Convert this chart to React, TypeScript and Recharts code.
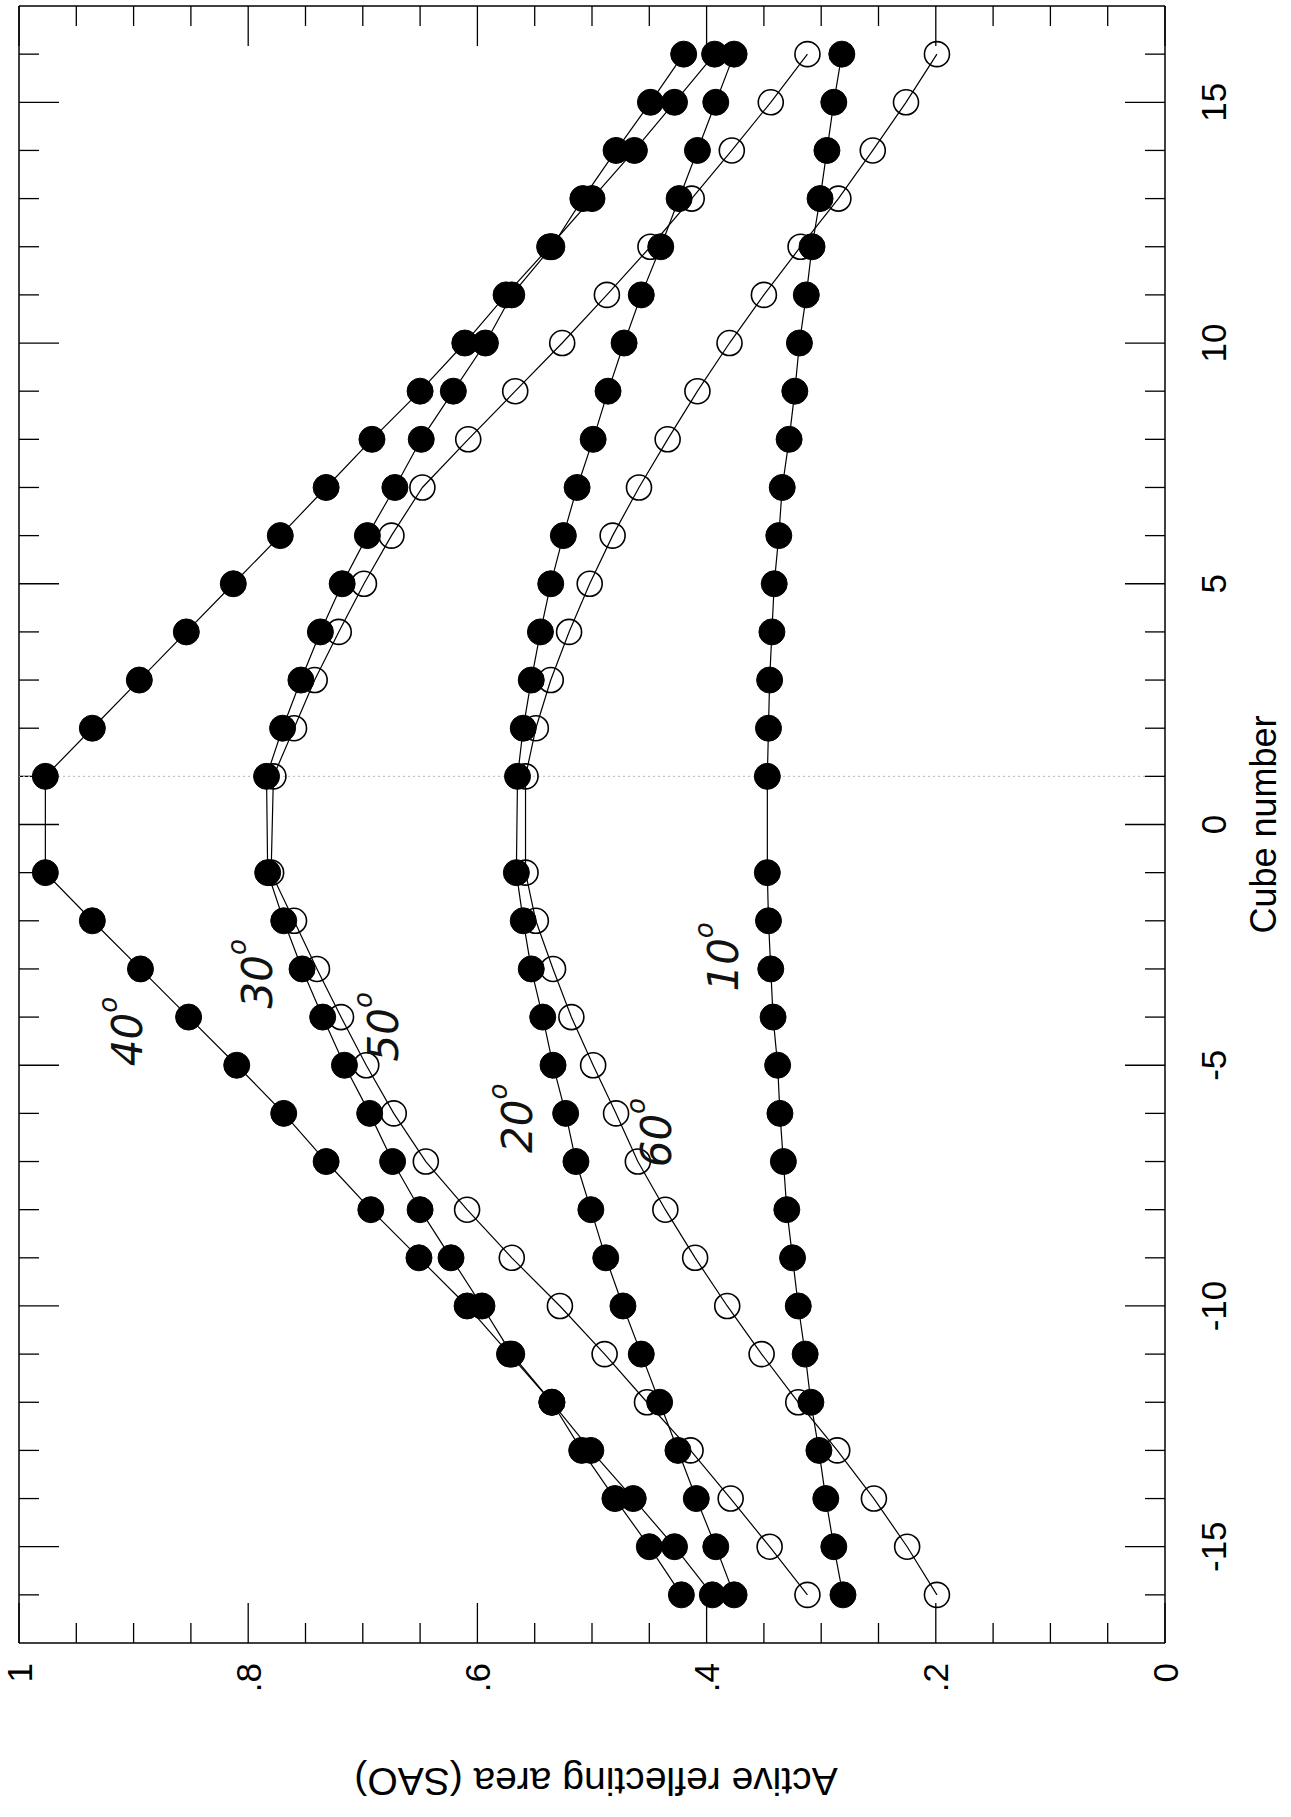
import React from 'react';
import { LineChart, Line, XAxis, YAxis, ReferenceLine, ReferenceDot, Label } from 'recharts';

// cube numbers (no cube 0)
const cubes = [
  -16, -15, -14, -13, -12, -11, -10, -9, -8, -7, -6, -5, -4, -3, -2, -1,
  1, 2, 3, 4, 5, 6, 7, 8, 9, 10, 11, 12, 13, 14, 15, 16,
];

// active reflecting area per angle, same order as cubes
const sao40 = [
  0.395, 0.428, 0.464, 0.501, 0.535, 0.572, 0.609, 0.651, 0.693, 0.732, 0.769, 0.81, 0.852, 0.894, 0.936, 0.977,
  0.977, 0.936, 0.895, 0.854, 0.813, 0.772, 0.732, 0.692, 0.65, 0.611, 0.575, 0.537, 0.5, 0.463, 0.428, 0.393,
];
const sao30 = [
  0.422, 0.45, 0.48, 0.509, 0.535, 0.57, 0.596, 0.623, 0.65, 0.674, 0.694, 0.716, 0.735, 0.753, 0.769, 0.783,
  0.784, 0.77, 0.754, 0.737, 0.718, 0.696, 0.672, 0.649, 0.621, 0.593, 0.57, 0.535, 0.508, 0.479, 0.449, 0.42,
];
const sao50 = [
  0.312, 0.345, 0.379, 0.414, 0.452, 0.489, 0.528, 0.57, 0.609, 0.645, 0.673, 0.697, 0.719, 0.74, 0.76, 0.78,
  0.778, 0.76, 0.742, 0.721, 0.699, 0.675, 0.648, 0.608, 0.567, 0.526, 0.487, 0.449, 0.413, 0.378, 0.344, 0.312,
];
const sao20 = [
  0.376, 0.392, 0.409, 0.425, 0.441, 0.457, 0.473, 0.488, 0.501, 0.514, 0.523, 0.534, 0.543, 0.553, 0.56, 0.566,
  0.565, 0.56, 0.553, 0.545, 0.536, 0.525, 0.513, 0.499, 0.486, 0.472, 0.457, 0.44, 0.424, 0.408, 0.392, 0.376,
];
const sao60 = [
  0.199, 0.225, 0.254, 0.286, 0.32, 0.352, 0.382, 0.41, 0.436, 0.46, 0.479, 0.499, 0.518, 0.534, 0.549, 0.558,
  0.558, 0.549, 0.536, 0.52, 0.502, 0.482, 0.459, 0.434, 0.408, 0.38, 0.35, 0.318, 0.285, 0.255, 0.226, 0.199,
];
const sao10 = [
  0.281, 0.289, 0.296, 0.302, 0.309, 0.314, 0.32, 0.325, 0.33, 0.333, 0.336, 0.338, 0.342, 0.344, 0.346, 0.347,
  0.347, 0.346, 0.345, 0.343, 0.341, 0.337, 0.334, 0.328, 0.323, 0.319, 0.313, 0.308, 0.301, 0.295, 0.289, 0.282,
];

const cubeTicks = [
  -16, -15, -14, -13, -12, -11, -10, -9, -8, -7, -6, -5, -4, -3, -2, -1, 0,
  1, 2, 3, 4, 5, 6, 7, 8, 9, 10, 11, 12, 13, 14, 15, 16,
];
const cubeMajor = [-15, -10, -5, 0, 5, 10, 15];
const cubeLabels = ['-15', '-10', '-5', '0', '5', '10', '15'];

const valueTicks = [
  0, 0.05, 0.1, 0.15, 0.2, 0.25, 0.3, 0.35, 0.4, 0.45, 0.5, 0.55, 0.6, 0.65, 0.7, 0.75, 0.8, 0.85, 0.9, 0.95, 1,
];
const valueMajor = [0, 0.2, 0.4, 0.6, 0.8, 1];
const valueLabels = ['0', '.2', '.4', '.6', '.8', '1'];

// hand-written angle notes
const noteText = ['40', '30', '50', '20', '60', '10'];
const noteCube = [-4.3, -3.1, -4.2, -6.1, -6.4, -2.75];
const noteValue = [0.905, 0.792, 0.682, 0.565, 0.444, 0.385];

const toPoints = (vals: number[]) => cubes.map((c, i) => ({ c, v: vals[i] }));

// open series first so filled dots sit on top
const series = [
  { key: '60', vals: sao60, open: true },
  { key: '50', vals: sao50, open: true },
  { key: '10', vals: sao10, open: false },
  { key: '20', vals: sao20, open: false },
  { key: '30', vals: sao30, open: false },
  { key: '40', vals: sao40, open: false },
];

const W = 1817;
const H = 1291;
const MARGIN = { top: 19, right: 6, bottom: 0, left: 0 };
const X_AXIS_H = 126;
const Y_AXIS_W = 174;
const PLOT_W = W - MARGIN.left - MARGIN.right - Y_AXIS_W;
const PLOT_H = H - MARGIN.top - MARGIN.bottom - X_AXIS_H;
const CUBE_MIN = -17;
const CUBE_MAX = 17;
const MINOR = 20;
const MAJOR = 40;
const FONT = '"Liberation Sans", Arial, Helvetica, sans-serif';

// pixel tick lengths expressed in data units, for the mirrored (top / right) ticks
const pxToValue = (px: number) => px / PLOT_H;
const pxToCube = (px: number) => (px * (CUBE_MAX - CUBE_MIN)) / PLOT_W;

const isMajorVal = (v: number) => valueMajor.some((m) => Math.abs(m - v) < 1e-6);
const valLabel = (v: number) => {
  const i = valueMajor.findIndex((m) => Math.abs(m - v) < 1e-6);
  return i >= 0 ? valueLabels[i] : '';
};

function CubeTickBottom(props: any) {
  const { x, y, payload } = props;
  const i = cubeMajor.indexOf(payload.value);
  const len = i >= 0 ? MAJOR : MINOR;
  return (
    <g>
      <line x1={x} y1={y} x2={x} y2={y - len} stroke="#000" strokeWidth={1.3} />
      {i >= 0 && (
        <text x={x} y={y + 48} textAnchor="middle" dominantBaseline="central" fontSize={35} fontFamily={FONT} fill="#000">
          {cubeLabels[i]}
        </text>
      )}
    </g>
  );
}

function ValueTickLeft(props: any) {
  const { x, y, payload } = props;
  const major = isMajorVal(payload.value);
  return (
    <g>
      <line x1={x} y1={y} x2={x + (major ? MAJOR : MINOR)} y2={y} stroke="#000" strokeWidth={1.3} />
      {major && (
        <text x={x - 20} y={y} textAnchor="end" dominantBaseline="central" fontSize={35} fontFamily={FONT} fill="#000">
          {valLabel(payload.value)}
        </text>
      )}
    </g>
  );
}

function Note(props: any) {
  const { cx, cy, text } = props;
  return (
    <text
      x={cx}
      y={cy}
      textAnchor="middle"
      dominantBaseline="central"
      fontSize={42}
      fontFamily='"DejaVu Sans", sans-serif'
      fontStyle="italic"
      fill="#111"
    >
      {text}
      <tspan fontSize={26} dy={-20}>o</tspan>
    </text>
  );
}

export default function App() {
  return (
    <div style={{ position: 'absolute', left: 0, top: 0, width: H, height: W, overflow: 'hidden', background: '#fff' }}>
      <div
        style={{
          position: 'absolute',
          left: 0,
          top: 0,
          width: W,
          height: H,
          transformOrigin: '0 0',
          transform: `translate(0px, ${W}px) rotate(-90deg)`,
        }}
      >
        <LineChart width={W} height={H} margin={MARGIN} style={{ fontFamily: FONT }}>
          <XAxis
            xAxisId="b"
            type="number"
            dataKey="c"
            domain={[CUBE_MIN, CUBE_MAX]}
            allowDataOverflow
            ticks={cubeTicks}
            interval={0}
            height={X_AXIS_H}
            tickSize={0}
            tickMargin={0}
            tickLine={false}
            axisLine={{ stroke: '#000', strokeWidth: 1.5 }}
            tick={(p: any) => <CubeTickBottom {...p} />}
          >
            <Label
              content={(p: any) => {
                const vb = p.viewBox || { x: Y_AXIS_W, y: MARGIN.top + PLOT_H, width: PLOT_W };
                return (
                  <text x={vb.x + vb.width / 2} y={vb.y + 98} textAnchor="middle" dominantBaseline="central" fontSize={36} fontFamily={FONT} fill="#000">
                    Cube number
                  </text>
                );
              }}
            />
          </XAxis>
          <YAxis
            yAxisId="l"
            type="number"
            domain={[0, 1]}
            allowDataOverflow
            ticks={valueTicks}
            interval={0}
            width={Y_AXIS_W}
            tickSize={0}
            tickMargin={0}
            tickLine={false}
            axisLine={{ stroke: '#000', strokeWidth: 1.5 }}
            tick={(p: any) => <ValueTickLeft {...p} />}
          >
            <Label
              content={(p: any) => {
                const vb = p.viewBox || { x: 0, y: MARGIN.top, height: PLOT_H };
                const cx = vb.x + 36;
                const cy = vb.y + vb.height / 2 + 4;
                return (
                  <text
                    x={cx}
                    y={cy}
                    transform={`rotate(-90 ${cx} ${cy})`}
                    textAnchor="middle"
                    dominantBaseline="central"
                    fontSize={39}
                    fontFamily={FONT}
                    fill="#000"
                  >
                    Active reflecting area (SAO)
                  </text>
                );
              }}
            />
          </YAxis>

          {/* closing frame lines */}
          <ReferenceLine xAxisId="b" yAxisId="l" y={1} stroke="#000" strokeWidth={1.5} />
          <ReferenceLine xAxisId="b" yAxisId="l" x={CUBE_MAX} stroke="#000" strokeWidth={1.5} />

          {/* mirrored inward ticks on the top and right edges */}
          {cubeTicks.map((c) => (
            <ReferenceLine
              key={`tt${c}`}
              xAxisId="b"
              yAxisId="l"
              segment={[
                { x: c, y: 1 },
                { x: c, y: 1 - pxToValue(cubeMajor.includes(c) ? MAJOR : MINOR) },
              ]}
              stroke="#000"
              strokeWidth={1.3}
            />
          ))}
          {valueTicks.map((v) => (
            <ReferenceLine
              key={`rt${v}`}
              xAxisId="b"
              yAxisId="l"
              segment={[
                { x: CUBE_MAX, y: v },
                { x: CUBE_MAX - pxToCube(isMajorVal(v) ? MAJOR : MINOR), y: v },
              ]}
              stroke="#000"
              strokeWidth={1.3}
            />
          ))}

          <ReferenceLine xAxisId="b" yAxisId="l" x={1} stroke="#b8b8b8" strokeDasharray="2 3" strokeWidth={1} />

          {series.map((s) => (
            <Line
              key={s.key}
              xAxisId="b"
              yAxisId="l"
              data={toPoints(s.vals)}
              dataKey="v"
              type="linear"
              stroke="#000"
              strokeWidth={1.2}
              isAnimationActive={false}
              dot={
                s.open
                  ? { r: 12.5, fill: 'none', stroke: '#000', strokeWidth: 1.6 }
                  : { r: 13, fill: '#000', stroke: '#000', strokeWidth: 1 }
              }
              activeDot={false}
            />
          ))}
          {noteText.map((t, i) => (
            <ReferenceDot
              key={t}
              xAxisId="b"
              yAxisId="l"
              x={noteCube[i]}
              y={noteValue[i]}
              r={0}
              shape={(p: any) => <Note {...p} text={t} />}
            />
          ))}
        </LineChart>
      </div>
    </div>
  );
}
